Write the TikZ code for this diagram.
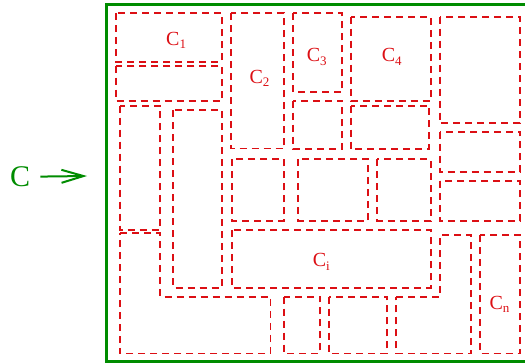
\documentclass[tikz,border=0pt]{standalone}
\usepackage{fontspec}
\setmainfont{Liberation Serif}
\usetikzlibrary{arrows.meta}
\definecolor{cellred}{RGB}{220,15,20}
\definecolor{framegreen}{RGB}{0,140,0}
\newcommand{\cellname}[1]{C\raisebox{-3.5pt}{\fontsize{13pt}{13pt}\selectfont #1}}

\begin{document}
\begin{tikzpicture}[x=1pt,y=-1pt,
  cell/.style={draw=cellred,line width=1.7pt,dash pattern=on 7pt off 5pt},
  lbl/.style={anchor=base west,inner sep=0pt,text=cellred,
    font=\fontsize{20pt}{20pt}\selectfont},
  outerframe/.style={draw=framegreen,line width=3pt},
  feed/.style={draw=framegreen,line width=2pt,
    -{Straight Barb[length=22pt,width=13pt]}}]
\useasboundingbox (0,0) rectangle (525,364);

% the whole region
\draw[outerframe] (525,4) -- (106.7,4) -- (106.7,361.7) -- (525,361.7);
\node[anchor=base west,inner sep=0pt,text=framegreen,
  font=\fontsize{30pt}{30pt}\selectfont] (whole) at (10,186.5) {C};
\coordinate (feedend) at (87,176);
\draw[feed,shorten <=10pt] (whole.east) -- (feedend);

% top band
\draw[cell] (115.7,13.3) rectangle (221.7,61.7);
\draw[cell] (115.7,65.7) rectangle (222,100.7);
\draw[cell] (230.7,13.3) rectangle (284.3,148.5);
\draw[cell] (293.3,13.3) rectangle (342.3,92.3);
\draw[cell] (293.3,100.7) rectangle (342.3,149);
\draw[cell] (350.7,16.7) rectangle (430.7,100.7);
\draw[cell] (350.7,105.7) rectangle (429.3,149);
\draw[cell] (440,16.7) rectangle (520,123.3);
\draw[cell] (440,131.7) rectangle (520,172);
\draw[cell] (440,181) rectangle (520,221);

% left columns
\draw[cell] (120,105.7) rectangle (160,230);
\draw[cell] (173.3,110) rectangle (221.7,287.7);

% middle
\draw[cell] (231.7,159.3) rectangle (284,220.7);
\draw[cell] (298.3,159.3) rectangle (368.3,220.7);
\draw[cell] (377.3,159.3) rectangle (430.7,220.7);
\draw[cell] (231.7,230) rectangle (430.7,287.7);

% bottom band
\draw[cell] (120,233.3) -- (160,233.3) -- (160,296.7) -- (270.5,296.7)
  -- (270.5,353.5) -- (120,353.5) -- cycle;
\draw[cell] (284,296.7) rectangle (320,353.5);
\draw[cell] (329,296.7) rectangle (387,353.5);
\draw[cell] (396,296.7) -- (440,296.7) -- (440,235) -- (471.3,235)
  -- (471.3,353.5) -- (396,353.5) -- cycle;
\draw[cell] (480,235) rectangle (520,353.5);

% labels
\node[lbl] (c1) at (166,45) {\cellname{1}};
\node[lbl] (c2) at (249.3,83.3) {\cellname{2}};
\node[lbl] (c3) at (306.7,61.7) {\cellname{3}};
\node[lbl] (c4) at (381.7,61.7) {\cellname{4}};
\node[lbl] (ci) at (312.7,266.7) {\cellname{i}};
\node[lbl] (cn) at (489.3,309.3) {\cellname{n}};
\end{tikzpicture}
\end{document}
